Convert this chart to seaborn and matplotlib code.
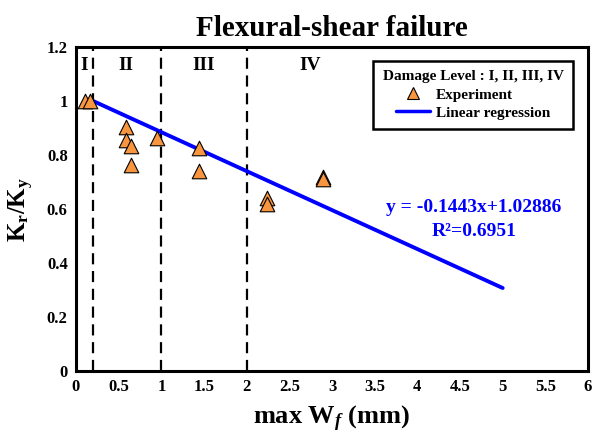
import matplotlib
matplotlib.use("Agg")
import matplotlib.pyplot as plt
import seaborn as sns
import numpy as np
import pandas as pd
from matplotlib.lines import Line2D

# data
exp_x = [0.10, 0.16, 0.59, 0.59, 0.645, 0.65, 0.946, 1.445, 1.445, 2.24, 2.24, 2.90, 2.90]
exp_y = [1.00, 1.00, 0.904, 0.855, 0.833, 0.763, 0.864, 0.825, 0.741, 0.640, 0.617, 0.720, 0.710]
slope = -0.1443
intercept = 1.02886
fit_x = [0.2, 5.0]
boundaries = [0.2, 1, 2]
zone_labels = ["I", "II", "III", "IV"]
zone_label_x = [0.1, 0.59, 1.49, 2.74]
xticks = [0, 0.5, 1, 1.5, 2, 2.5, 3, 3.5, 4, 4.5, 5, 5.5, 6]
xticklabels = ["0", "0.5", "1", "1.5", "2", "2.5", "3", "3.5", "4", "4.5", "5", "5.5", "6"]
yticks = [0, 0.2, 0.4, 0.6, 0.8, 1.0, 1.2]
yticklabels = ["0", "0.2", "0.4", "0.6", "0.8", "1", "1.2"]

sns.set_theme(style="white")
plt.rcParams['font.family'] = ['Liberation Serif', 'DejaVu Serif']
plt.rcParams['font.weight'] = 'bold'
plt.rcParams['mathtext.fontset'] = 'custom'
plt.rcParams['mathtext.rm'] = 'Liberation Serif:bold'
plt.rcParams['mathtext.bf'] = 'Liberation Serif:bold'
plt.rcParams['mathtext.it'] = 'Liberation Serif:bold:italic'
for k in ['text.color', 'axes.labelcolor', 'xtick.color', 'ytick.color', 'axes.edgecolor']:
    plt.rcParams[k] = 'black'

fig = plt.figure(figsize=(5.96, 4.33), dpi=100)
ax = fig.add_axes([0.1275, 0.1432, 0.8591, 0.7483])

df = pd.DataFrame({"x": exp_x, "y": exp_y})
fit_y = [slope * v + intercept for v in fit_x]
dfit = pd.DataFrame({"x": fit_x, "y": fit_y})

for b in boundaries:
    ax.axvline(b, color="black", linestyle=(0, (5, 3)), linewidth=1.6, zorder=1)

sns.lineplot(data=dfit, x="x", y="y", ax=ax, color="#0000FF", linewidth=2.8, zorder=2)
sns.scatterplot(data=df, x="x", y="y", ax=ax, marker="^", s=110, color="#F7963F",
                edgecolor="black", linewidth=0.8, zorder=3)

for lx, lab in zip(zone_label_x, zone_labels):
    ax.text(lx, 1.13, lab, ha="center", va="center", fontsize=14, fontweight="bold")

ax.text(4.66, 0.604, "y = -0.1443x+1.02886", ha="center", va="center",
        fontsize=14, fontweight="bold", color="#0000FF")
ax.text(4.66, 0.515, "R²=0.6951", ha="center", va="center",
        fontsize=14, fontweight="bold", color="#0000FF")

ax.set_xlim(0, 6)
ax.set_ylim(0, 1.2)
ax.set_xticks(xticks)
ax.set_xticklabels(xticklabels, fontsize=12, fontweight="bold")
ax.set_yticks(yticks)
ax.set_yticklabels(yticklabels, fontsize=12, fontweight="bold")
ax.tick_params(length=0, pad=6)
for s in ax.spines.values():
    s.set_linewidth(2.2)
    s.set_color("black")

ax.set_xlabel(r"max W$_{\mathit{f}}$ (mm)", fontsize=19, fontweight="bold", labelpad=6)
ax.set_ylabel(r"K$_{\mathrm{r}}$/K$_{\mathrm{y}}$", fontsize=18, fontweight="bold", labelpad=8)
ax.set_title("Flexural-shear failure", fontsize=21, fontweight="bold", pad=8)

handles = [Line2D([], [], marker="^", linestyle="none", markersize=8,
                  markerfacecolor="#F7963F", markeredgecolor="black", markeredgewidth=0.8),
           Line2D([], [], color="#0000FF", linewidth=2.5)]
leg = ax.legend(handles, ["Experiment", "Linear regression"],
                title="Damage Level : I, II, III, IV", loc="upper right",
                bbox_to_anchor=(0.985, 0.98), fancybox=False, framealpha=1,
                edgecolor="black", prop={"weight": "bold", "size": 11},
                title_fontproperties={"weight": "bold", "size": 11},
                handlelength=2.2, borderpad=0.6, labelspacing=0.3, handletextpad=0.4)
leg.get_frame().set_linewidth(1.8)

fig.savefig("out.png", dpi=100)
